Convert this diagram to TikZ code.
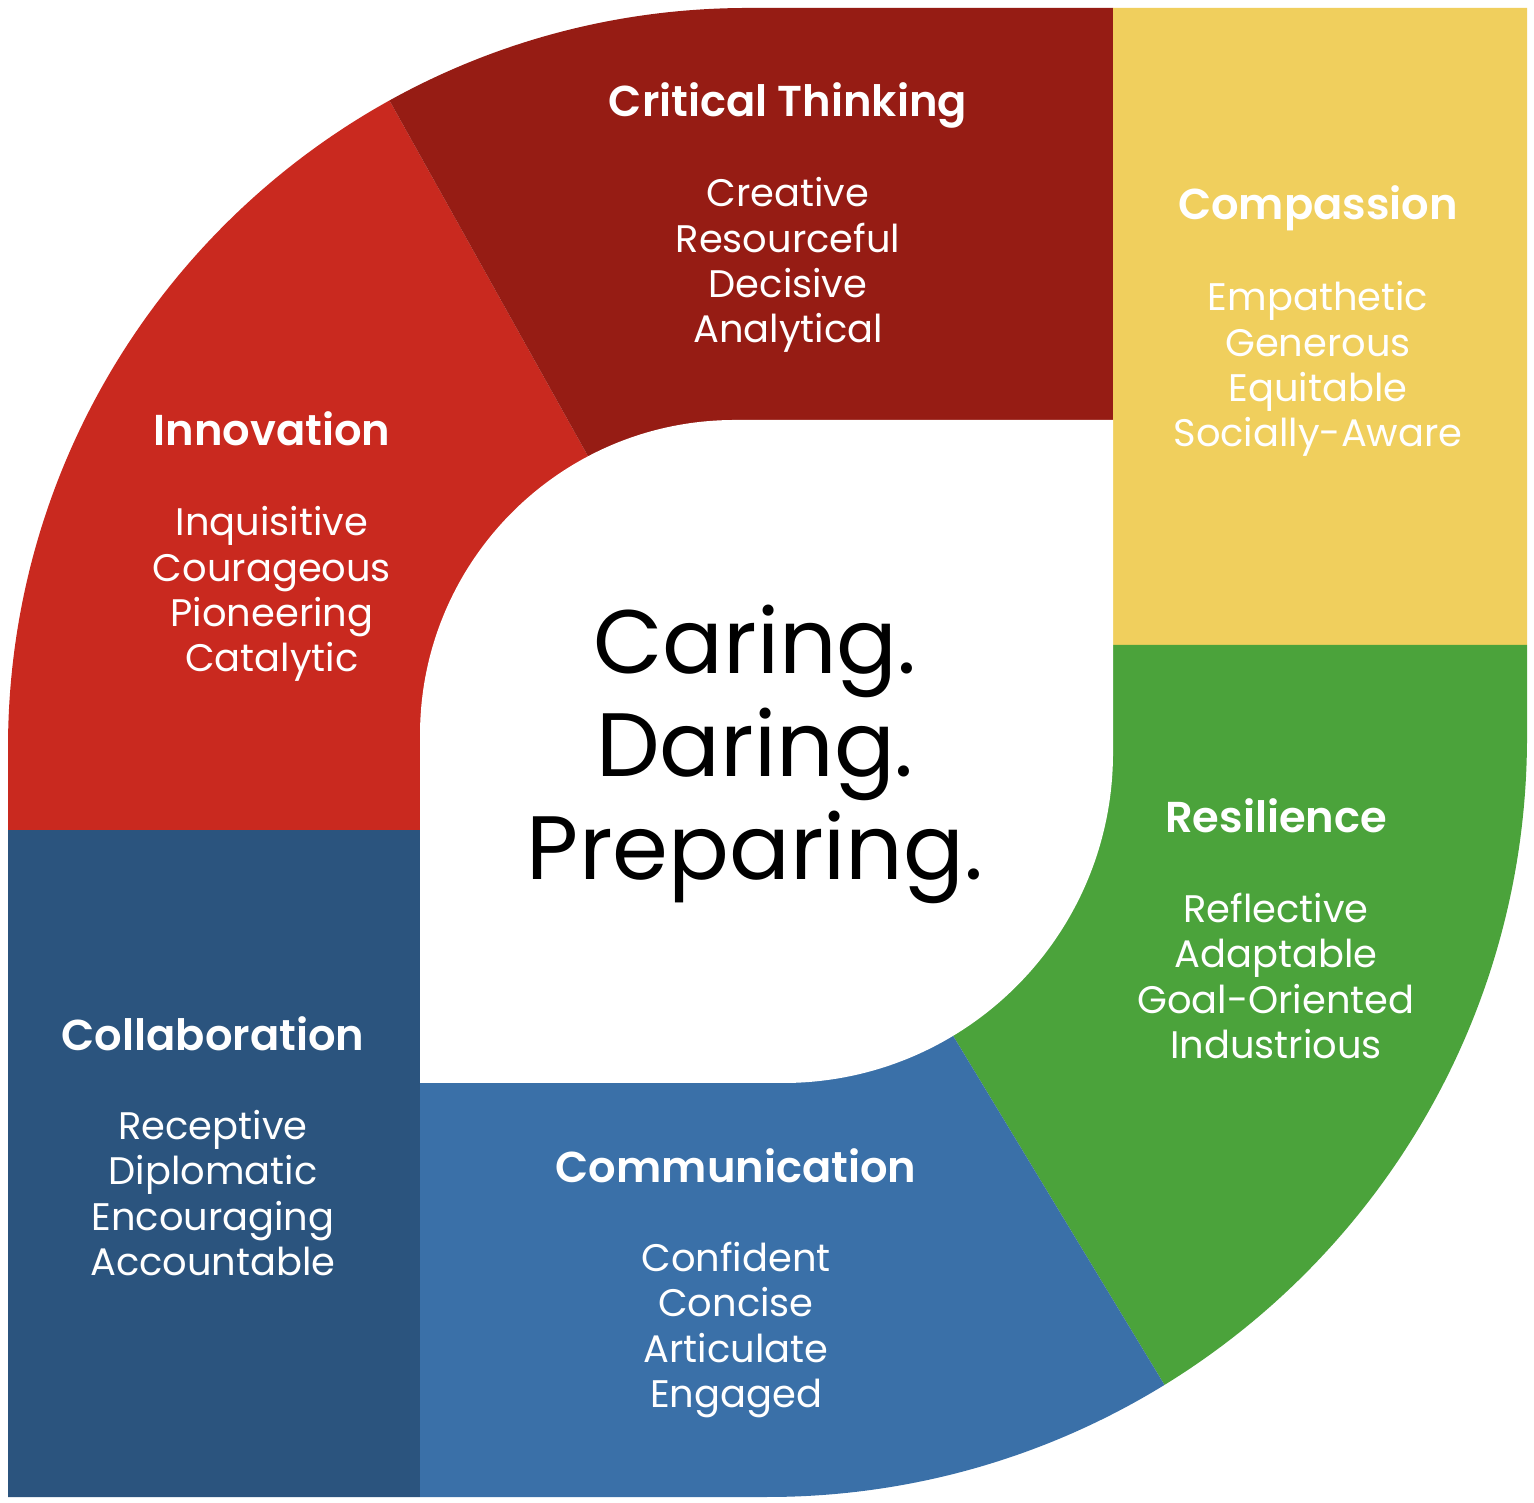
\documentclass[tikz,border=0pt]{standalone}
\usepackage{fontspec}
\setmainfont{Poppins}
\newfontfamily\headfont{Poppins SemiBold}
\definecolor{innovC}{HTML}{C9291F}
\definecolor{critC}{HTML}{961C14}
\definecolor{compC}{HTML}{F0CF5D}
\definecolor{resiC}{HTML}{4BA33B}
\definecolor{commC}{HTML}{3A70A8}
\definecolor{collC}{HTML}{2B547E}
\tikzset{
  headtxt/.style={text=white, inner sep=0pt, font=\fontsize{21.6}{26}\headfont},
  bodytxt/.style={text=white, inner sep=0pt, align=center, font=\fontsize{19.2}{22.6}\selectfont},
  centertxt/.style={text=black, inner sep=0pt, align=center, font=\fontsize{45}{51.5}\selectfont}
}
\begin{document}
\begin{tikzpicture}[x=0.5pt,y=0.5pt]
\useasboundingbox (0,0) rectangle (1534,1502);
\fill[white] (0,0) rectangle (1534,1502);
\begin{scope}
  \clip (8,5) -- (767,5) arc[start angle=-90,end angle=0,radius=760] -- (1527,1494) -- (748,1494) arc[start angle=90,end angle=180,radius=740] -- cycle;
  % Collaboration
  \fill[collC] (-100,-300) -- (420,-300) -- (420,672) -- (-100,672) -- cycle;
  % Innovation
  \fill[innovC] (-100,672) -- (752,672) -- (752,752) -- (191,1757) -- (-100,1757) -- cycle;
  % Critical Thinking
  \fill[critC] (752,752) -- (191,1757) -- (1113,1757) -- (1113,752) -- cycle;
  % Compassion
  \fill[compC] (1113,857) -- (1700,857) -- (1700,1757) -- (1113,1757) -- cycle;
  % Resilience
  \fill[resiC] (780,752) -- (1113,752) -- (1113,857) -- (1700,857) -- (1700,-300) -- (1417,-300) -- cycle;
  % Communication
  \fill[commC] (420,-300) -- (1417,-300) -- (780,752) -- (420,752) -- cycle;
\end{scope}
\fill[white] (420,419) -- (783,419) arc[start angle=-90,end angle=0,radius=330] -- (1113,1082) -- (735,1082) arc[start angle=90,end angle=180,radius=315] -- cycle;

\node[headtxt] (cth) at (788,1397) {Critical Thinking};
\node[bodytxt] (ctb) at (788,1237) {Creative\\Resourceful\\Decisive\\Analytical};

\node[headtxt] (cph) at (1318,1294) {Compassion};
\node[bodytxt] (cpb) at (1318,1133) {Empathetic\\Generous\\Equitable\\Socially-Aware};

\node[headtxt] (inh) at (272,1073) {Innovation};
\node[bodytxt] (inb) at (272,908) {Inquisitive\\Courageous\\Pioneering\\Catalytic};

\node[headtxt] (reh) at (1276,686) {Resilience};
\node[bodytxt] (reb) at (1276,526) {Reflective\\Adaptable\\Goal-Oriented\\Industrious};

\node[headtxt] (coh) at (213,468) {Collaboration};
\node[bodytxt] (cob) at (213,309) {Receptive\\Diplomatic\\Encouraging\\Accountable};

\node[headtxt] (cmh) at (736,336) {Communication};
\node[bodytxt] (cmb) at (736,172) {Confident\\Concise\\Articulate\\Engaged};

\node[centertxt] (mid) at (755,748) {Caring.\\Daring.\\Preparing.};
\end{tikzpicture}
\end{document}
